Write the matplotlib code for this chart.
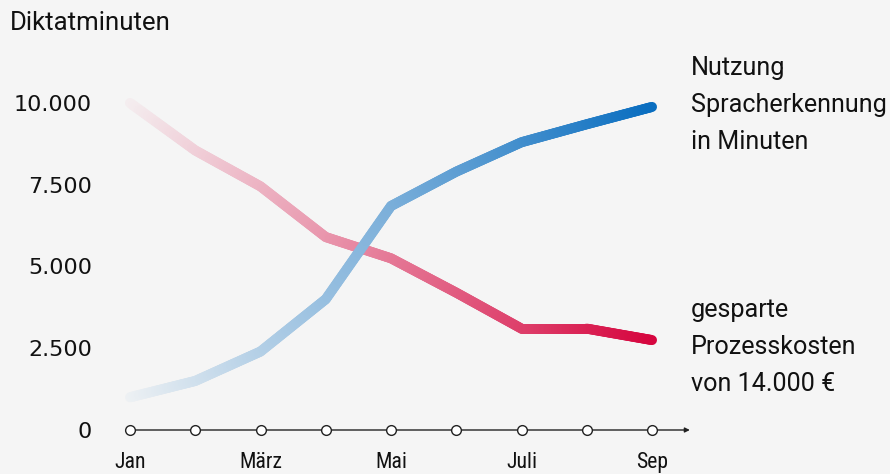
import numpy as np
import matplotlib
matplotlib.use("Agg")
import matplotlib.pyplot as plt
from matplotlib.collections import LineCollection
from matplotlib import font_manager as fm
import matplotlib.colors as mcolors
import matplotlib.transforms as mtransforms

# ---- data ----
months = ["Jan", "Feb", "März", "Apr", "Mai", "Jun", "Juli", "Aug", "Sep"]
month_labels_shown = ["Jan", "", "März", "", "Mai", "", "Juli", "", "Sep"]
usage_minutes = [1000, 1500, 2400, 4000, 6850, 7900, 8800, 9350, 9880]
saved_costs = [10000, 8550, 7450, 5900, 5250, 4200, 3100, 3100, 2750]
y_ticks = [0, 2500, 5000, 7500, 10000]
y_tick_labels = ["0", "2.500", "5.000", "7.500", "10.000"]
label_usage = ["Nutzung", "Spracherkennung", "in Minuten"]
label_costs = ["gesparte", "Prozesskosten", "von 14.000 €"]
y_title = "Diktatminuten"

BG = "#f5f5f5"
BLUE = "#0a6ec0"
RED = "#d6063f"
TXT = "#111111"

names = {f.name for f in fm.fontManager.ttflist}


def pick(cands):
    for c in cands:
        if c in names:
            return c
    return "DejaVu Sans"


narrow = pick(["Liberation Sans Narrow", "DejaVu Sans Condensed", "Roboto Condensed", "Roboto"])
main_font = pick(["Roboto", "Liberation Sans"])
num_font = "DejaVu Sans"

W, H = 890, 474
fig = plt.figure(figsize=(W / 100, H / 100), dpi=100, facecolor=BG)
renderer = fig.canvas.get_renderer()


def fit_size(text, family, target_px, base=20):
    t = fig.text(0, 0, text, fontsize=base, family=family)
    w = t.get_window_extent(renderer).width
    t.remove()
    return base * target_px / w


# pixel layout
x0_px, x8_px = 130, 652
y0_px, y10k_px = 430, 103
ppu_x = (x8_px - x0_px) / 8
ppu_y = (y0_px - y10k_px) / 10000
left_px = x0_px - 0.5 * ppu_x
right_px = x8_px + 0.5 * ppu_x
bottom_px = y0_px + 500 * ppu_y
top_px = y10k_px - 500 * ppu_y
ax = fig.add_axes([left_px / W, (H - bottom_px) / H,
                   (right_px - left_px) / W, (bottom_px - top_px) / H])
ax.set_facecolor(BG)
ax.set_xlim(-0.5, 8.5)
ax.set_ylim(-500, 10500)
for s in ax.spines.values():
    s.set_visible(False)
ax.set_xticks([])
ax.set_yticks(y_ticks)
num_size = fit_size("10.000", num_font, 78)
ax.set_yticklabels(y_tick_labels, fontsize=num_size, family=num_font, color=TXT)
ax.tick_params(axis="y", length=0, pad=4)

x = np.arange(len(months))


def gradient_line(xs, ys, color, z):
    bg = np.array(mcolors.to_rgb(BG))
    fg = np.array(mcolors.to_rgb(color))
    n_sub = 40
    segs, cols = [], []
    for i in range(len(xs) - 1):
        t = np.linspace(0, 1, n_sub + 1)
        px = xs[i] + (xs[i + 1] - xs[i]) * t
        py = ys[i] + (ys[i + 1] - ys[i]) * t
        for k in range(n_sub):
            segs.append([(px[k], py[k]), (px[k + 1], py[k + 1])])
            f = ((px[k] + px[k + 1]) / 2 - xs[0]) / (xs[-1] - xs[0])
            f = 0.03 + 0.97 * f
            cols.append(bg * (1 - f) + fg * f)
    lc = LineCollection(segs, colors=cols, linewidths=7.2, capstyle="round",
                        joinstyle="round", zorder=z)
    ax.add_collection(lc)


gradient_line(x, np.array(saved_costs, float), RED, 2)
gradient_line(x, np.array(usage_minutes, float), BLUE, 3)

# x axis with arrow and circles
ax.annotate("", xy=(8.58, 0), xytext=(0, 0),
            arrowprops=dict(arrowstyle="-|>", lw=1.0, color="#222",
                            mutation_scale=7, shrinkA=0, shrinkB=0),
            annotation_clip=False, zorder=4)
ax.plot(x, np.zeros(len(x)), "o", ms=7, mfc="white", mec="#222", mew=1.0,
        zorder=5, clip_on=False)

xl_size = fit_size("März", narrow, 43)
trans = mtransforms.blended_transform_factory(ax.transData, fig.transFigure)
for xi, lab in zip(x, month_labels_shown):
    if lab:
        fig.text(xi, (H - 468) / H, lab, transform=trans, fontsize=xl_size, family=narrow,
                 ha="center", va="baseline", color=TXT)

fig.text(10 / W, (H - 30) / H, y_title, fontsize=fit_size(y_title, main_font, 160),
         family=main_font, ha="left", va="baseline", color=TXT)

leg_size = fit_size("Spracherkennung", main_font, 195)
for lines, base in ((label_usage, 75), (label_costs, 317)):
    for i, line in enumerate(lines):
        fig.text(691 / W, (H - (base + 37 * i)) / H, line, fontsize=leg_size,
                 family=main_font, ha="left", va="baseline", color=TXT)

fig.savefig("out.png", dpi=100, facecolor=BG)
